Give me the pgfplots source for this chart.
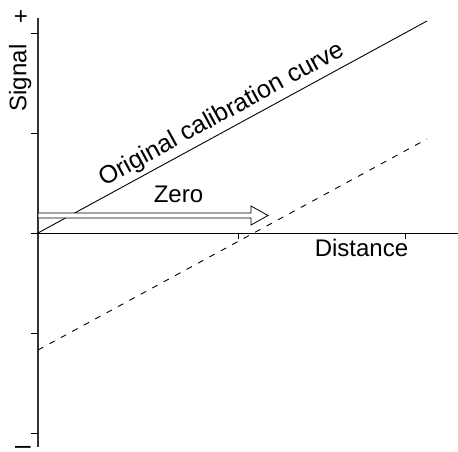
\documentclass[border=0pt]{standalone}
\usepackage{fontspec}
\setmainfont{Liberation Sans}
\usepackage{pgfplots}
\pgfplotsset{compat=1.18}
\tikzset{lbl/.style={font=\fontsize{24}{28}\selectfont, inner sep=0pt, anchor=base}}

\begin{document}
\begin{tikzpicture}
\begin{axis}[
    width=458pt, height=451pt,
    scale only axis,
    hide axis,
    clip=false,
    xmin=-0.38, xmax=4.20,
    ymin=-2.18, ymax=2.33,
    unbounded coords=jump,
    every axis plot/.append style={no marks},
]
% axes
\addplot[black!80, line width=1.2pt] coordinates {(0,2.15) (0,-2.14)};
\addplot[black, line width=1pt] coordinates {(-0.07,0) (4.20,0)};
% ticks
\addplot[black, line width=0.8pt] coordinates {
    (-0.07,2) (0,2) (nan,nan)
    (-0.07,1) (0,1) (nan,nan)
    (-0.07,-1) (0,-1) (nan,nan)
    (-0.07,-2) (0,-2)
};
\addplot[black, line width=0.8pt] coordinates {
    (2.00,0) (2.00,-0.06) (nan,nan)
    (3.67,0) (3.67,-0.06)
};
% original calibration curve
\addplot[black, line width=0.9pt] coordinates {(0,0) (3.89,2.12)};
% shifted curve
\addplot[black, line width=0.9pt, dash pattern=on 6pt off 7pt] coordinates {(0,-1.17) (3.89,0.94)};
% zero arrow
\addplot[black, fill=white, line width=0.8pt] coordinates {
    (0,0.20) (2.13,0.20) (2.13,0.27) (2.30,0.175) (2.13,0.08) (2.13,0.15) (0,0.15)
} -- cycle;
% labels
\node[lbl] at (axis cs:-0.17,2.085) {+};
\node[lbl, font=\fontsize{28}{32}\selectfont] at (axis cs:-0.15,-2.21) {–};
\node[lbl, rotate=90] at (axis cs:-0.115,1.55) {Signal};
\node[lbl] at (axis cs:1.405,0.31) {Zero};
\node[lbl] at (axis cs:3.235,-0.23) {Distance};
\node[lbl, font=\fontsize{25}{29}\selectfont, rotate=28.6] at (axis cs:1.87,1.125) {Original calibration curve};
\coordinate (bl) at (rel axis cs:0,0);
\coordinate (tr) at (rel axis cs:1,1);
\end{axis}
\pgfresetboundingbox
\path (bl) rectangle (tr);
\end{tikzpicture}
\end{document}
